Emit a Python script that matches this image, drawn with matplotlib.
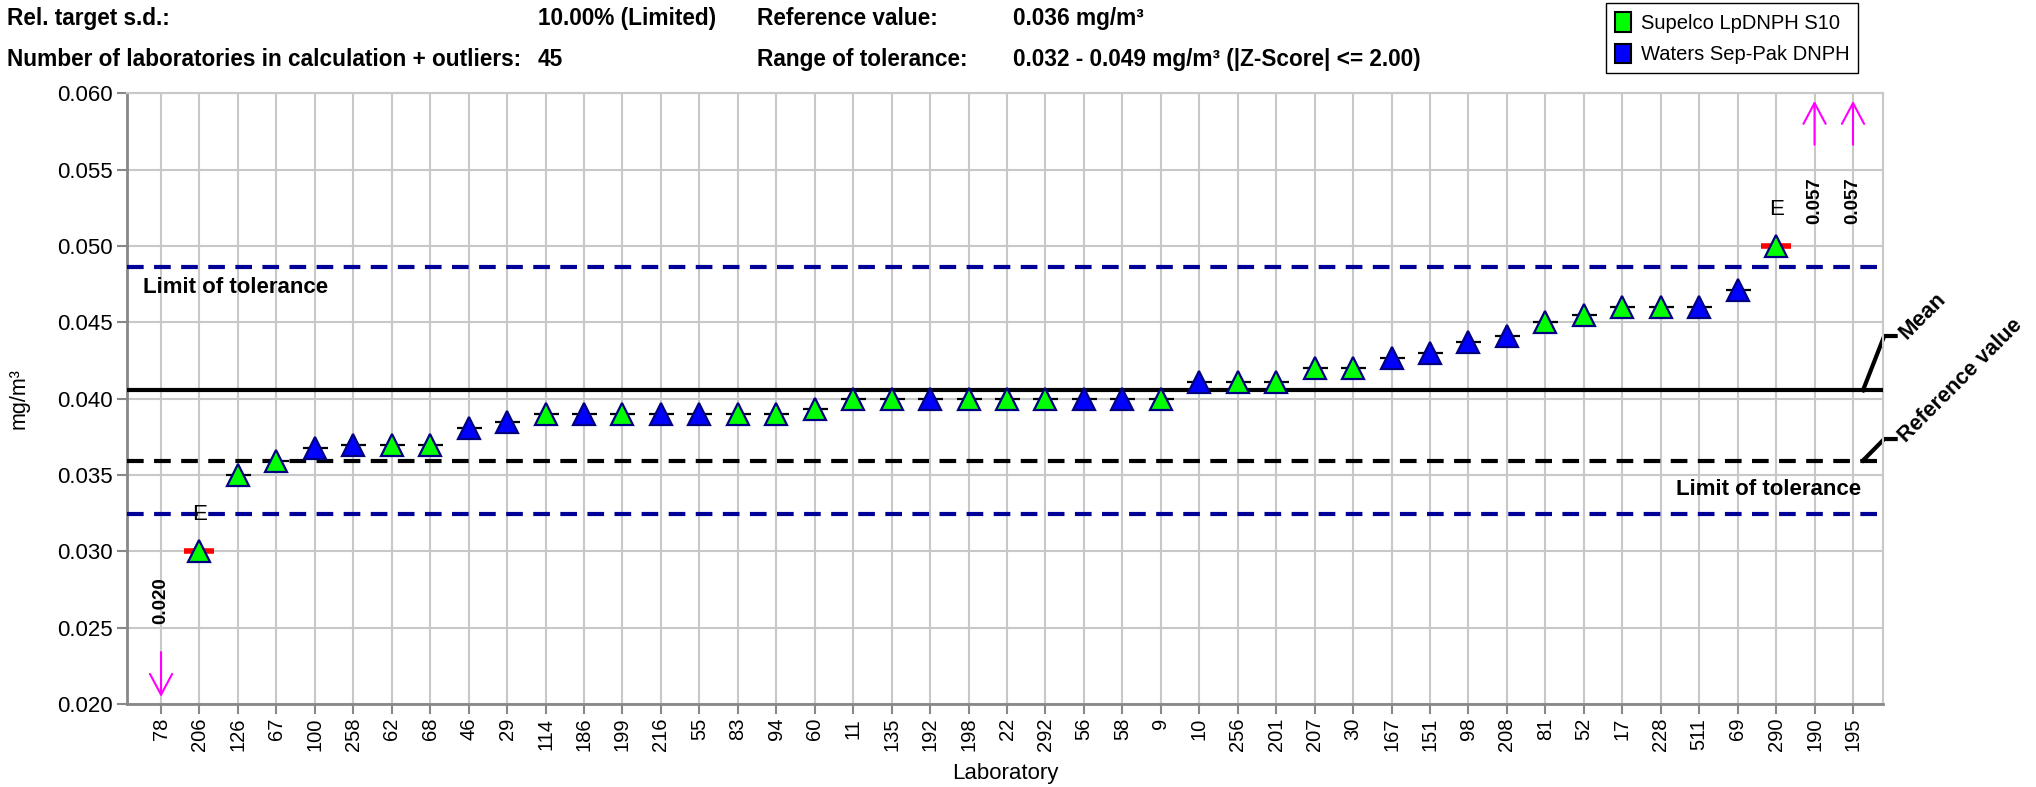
import matplotlib
matplotlib.use('Agg')
import matplotlib.pyplot as plt
from matplotlib.patches import Patch
from matplotlib.transforms import blended_transform_factory

NARROW = ['Liberation Sans Narrow', 'Liberation Sans', 'DejaVu Sans']
ARIAL = ['Liberation Sans', 'DejaVu Sans']

# laboratories, sorted by result
labs = ['78', '206', '126', '67', '100', '258', '62', '68', '46', '29', '114', '186', '199', '216', '55',
        '83', '94', '60', '11', '135', '192', '198', '22', '292', '56', '58', '9', '10', '256', '201',
        '207', '30', '167', '151', '98', '208', '81', '52', '17', '228', '511', '69', '290', '190', '195']
values = [0.020, 0.030, 0.035, 0.0359, 0.0368, 0.0370, 0.0370, 0.0370, 0.0381, 0.0385, 0.039, 0.039,
          0.039, 0.039, 0.039, 0.039, 0.039, 0.0393, 0.040, 0.040, 0.040, 0.040, 0.040, 0.040, 0.040,
          0.040, 0.040, 0.0411, 0.0411, 0.0411, 0.0420, 0.0420, 0.0427, 0.0430, 0.0437, 0.0441, 0.0450,
          0.0455, 0.0460, 0.0460, 0.0460, 0.0471, 0.050, 0.057, 0.057]
# S = Supelco LpDNPH S10, W = Waters Sep-Pak DNPH, '' = out of plotted range
cartridge = ['', 'S', 'S', 'S', 'W', 'W', 'S', 'S', 'W', 'W', 'S', 'W', 'S', 'W', 'W',
             'S', 'S', 'S', 'S', 'S', 'W', 'S', 'S', 'S', 'W', 'W', 'S', 'W', 'S', 'S',
             'S', 'S', 'W', 'W', 'W', 'W', 'S', 'S', 'S', 'S', 'W', 'W', 'S', '', '']
outliers = ['206', '290']  # marked with "E"
below_range = ['78']
above_range = ['190', '195']

mean_value = 0.04055
reference_value = 0.03595
tolerance_low = 0.03242
tolerance_high = 0.04866

colors = {'S': '#00FF00', 'W': '#0000FF'}
names = {'S': 'Supelco LpDNPH S10', 'W': 'Waters Sep-Pak DNPH'}

fig = plt.figure(figsize=(20.36, 7.87), dpi=100)
ax = fig.add_axes([0.0624, 0.1055, 0.86245, 0.7757])
x = list(range(len(labs)))

# reference lines
ax.axhline(tolerance_high, color='#000099', lw=3, ls=(0, (4, 2.5)), zorder=3)
ax.axhline(tolerance_low, color='#000099', lw=3, ls=(0, (4, 2.5)), zorder=3)
ax.axhline(reference_value, color='black', lw=3, ls=(0, (4, 2.5)), zorder=3)
ax.axhline(mean_value, color='black', lw=3, zorder=3)

# results
for i, (v, c) in enumerate(zip(values, cartridge)):
    if c == '':
        continue
    if labs[i] in outliers:
        ax.plot(i, v, ls='none', marker='_', ms=21, mew=4, mec='red', zorder=4)
        ax.annotate('E', (i, v), xytext=(0, 19), textcoords='offset points', ha='center', va='bottom',
                    fontsize=16, family=ARIAL)
    else:
        ax.plot(i, v, ls='none', marker='_', ms=18, mew=1.6, mec='black', zorder=4)
    ax.plot(i, v, ls='none', marker='^', ms=15.5, mfc=colors[c], mec='#000080', mew=1.6, zorder=5)

# out of range indicators
ylo, yhi = 0.020, 0.060
tr = blended_transform_factory(ax.transData, ax.transAxes)
for i, lab in enumerate(labs):
    if lab in below_range:
        tip, tail, txt = 0.0115, 0.085, 0.170
    elif lab in above_range:
        tip, tail, txt = 0.988, 0.916, 0.824
    else:
        continue
    ax.annotate('', xy=(i, tip), xytext=(i, tail), xycoords=tr, textcoords=tr,
                arrowprops=dict(arrowstyle='->,head_length=0.75,head_width=0.4', color='#FF00FF',
                                lw=1.5, mutation_scale=20, shrinkA=0, shrinkB=0), zorder=6)
    ax.text(i, txt, '%.3f' % values[i], transform=tr, rotation=90, ha='center', va='center',
            fontsize=13.5, fontweight='bold', family=ARIAL)

# line labels
bt = blended_transform_factory(ax.transAxes, ax.transData)
ax.text(0.0091, 0.04726, 'Limit of tolerance', transform=bt,
        ha='left', va='center', fontsize=16, fontweight='bold', family=ARIAL)
ax.text(0.9875, 0.03402, 'Limit of tolerance', transform=bt,
        ha='right', va='center', fontsize=16, fontweight='bold', family=ARIAL)

ax.plot([0.9886, 1.0007, 1.0072], [mean_value, 0.04411, 0.04411], color='black', lw=3,
        transform=bt, clip_on=False, solid_joinstyle='miter')
ax.plot([0.9886, 1.0007, 1.0072], [reference_value, 0.03736, 0.03736], color='black', lw=3,
        transform=bt, clip_on=False, solid_joinstyle='miter')
ax.text(1.0110, 0.04411, 'Mean', transform=bt, rotation=45, rotation_mode='anchor',
        ha='left', va='center', fontsize=16, fontweight='bold', family=ARIAL)
ax.text(1.0110, 0.03736, 'Reference value', transform=bt, rotation=45, rotation_mode='anchor',
        ha='left', va='center', fontsize=15.5, fontweight='bold', family=ARIAL)

# axes styling
ax.set_xlim(-0.884, len(labs) - 1 + 0.78)
ax.set_ylim(ylo, yhi)
ax.set_yticks([0.020, 0.025, 0.030, 0.035, 0.040, 0.045, 0.050, 0.055, 0.060])
ax.set_yticklabels(['%.3f' % t for t in ax.get_yticks()], family=NARROW, fontsize=16)
ax.set_xticks(x)
ax.set_xticklabels(labs, rotation=90, family=ARIAL, fontsize=14.5)
ax.grid(True, color='#C8C8C8', lw=1.5, zorder=0)
ax.set_axisbelow(True)
for s in ['left', 'bottom']:
    ax.spines[s].set_color('#888888')
    ax.spines[s].set_linewidth(2)
for s in ['top', 'right']:
    ax.spines[s].set_color('#C8C8C8')
    ax.spines[s].set_linewidth(1.5)
ax.tick_params(axis='both', direction='out', length=7, width=1.5, color='#888888', pad=3)
ax.set_xlabel('Laboratory', family=NARROW, fontsize=16, labelpad=8)
ax.set_ylabel('mg/m³', family=ARIAL, fontsize=15.5, labelpad=20)

# header
hdr = dict(fontsize=16.3, fontweight='bold', family=NARROW, va='center', ha='left')
fig.text(0.0035, 0.977, 'Rel. target s.d.:', **hdr)
fig.text(0.2640, 0.977, '10.00% (Limited)', **hdr)
fig.text(0.3718, 0.977, 'Reference value:', **hdr)
fig.text(0.4975, 0.977, '0.036 mg/m³', **hdr)
fig.text(0.0035, 0.924, 'Number of laboratories in calculation + outliers:', **hdr)
fig.text(0.2640, 0.924, '45', **hdr)
fig.text(0.3718, 0.924, 'Range of tolerance:', **hdr)
fig.text(0.4975, 0.924, '0.032 - 0.049 mg/m³ (|Z-Score| <= 2.00)', **hdr)

handles = [Patch(facecolor=colors[k], edgecolor='black', linewidth=1.5, label=names[k]) for k in ['S', 'W']]
fig.legend(handles=handles, loc='upper left', bbox_to_anchor=(0.789, 0.996), fancybox=False,
           edgecolor='black', framealpha=1, borderaxespad=0, handletextpad=0.5, handlelength=0.75,
           handleheight=1.1, borderpad=0.45, labelspacing=0.55, prop={'family': NARROW, 'size': 14.5})

fig.savefig('out.png', dpi=100)
